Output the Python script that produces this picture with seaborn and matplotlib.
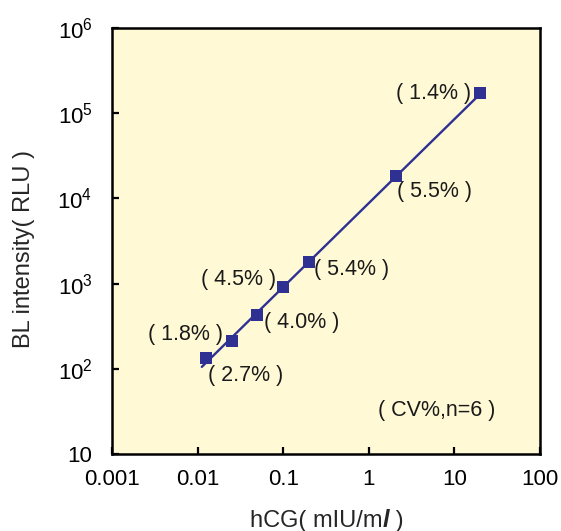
import numpy as np
import pandas as pd
import seaborn as sns
import matplotlib.pyplot as plt
from matplotlib.ticker import FixedLocator, NullLocator

# hCG concentration (mIU/ml) and measured intensity (RLU)
conc = [0.0125, 0.025, 0.05, 0.1, 0.2, 2.1, 20.0]
rlu = [133, 214, 428, 920, 1810, 18500, 171000]
cv_labels = ["( 2.7% )", "( 1.8% )", "( 4.0% )", "( 4.5% )",
             "( 5.4% )", "( 5.5% )", "( 1.4% )"]

x_ticks = [0.001, 0.01, 0.1, 1, 10, 100]
x_ticklabels = ["0.001", "0.01", "0.1", "1", "10", "100"]
y_ticks = [10, 1e2, 1e3, 1e4, 1e5, 1e6]
y_ticklabels = ["10", r"$\mathregular{10^{2}}$", r"$\mathregular{10^{3}}$",
                r"$\mathregular{10^{4}}$", r"$\mathregular{10^{5}}$",
                r"$\mathregular{10^{6}}$"]

# label placement: (ha, dx px, dy px) relative to each point
label_pos = [("left", 2, -17), ("right", -9, 6), ("left", 7, -7),
             ("right", -7, 7), ("left", 5, -8), ("left", 1, -16),
             ("right", -9, 0)]

blue = "#2E3192"
bg = "#FFF9D6"

sns.set_theme(style="ticks")
plt.rcParams["font.family"] = ["Liberation Sans", "DejaVu Sans"]
plt.rcParams["mathtext.fontset"] = "custom"
plt.rcParams["mathtext.rm"] = "Liberation Sans"
plt.rcParams["mathtext.it"] = "Liberation Sans:italic"

df = pd.DataFrame({"conc": conc, "rlu": rlu})

# log-log linear fit for the calibration line
slope, icpt = np.polyfit(np.log10(df["conc"]), np.log10(df["rlu"]), 1)
fit_x = np.array([0.0112, df["conc"].max()])
fit = pd.DataFrame({"conc": fit_x, "rlu": 10 ** (icpt + slope * np.log10(fit_x))})

fig = plt.figure(figsize=(5.61, 5.31), dpi=100)
ax = fig.add_axes([0.1996, 0.145, 0.763, 0.802])
ax.set_facecolor(bg)

sns.lineplot(data=fit, x="conc", y="rlu", ax=ax, color=blue, linewidth=1.7)
sns.scatterplot(data=df, x="conc", y="rlu", ax=ax, color=blue, marker="s",
                s=75, edgecolor=blue, linewidth=0, zorder=3)

ax.set_xscale("log")
ax.set_yscale("log")
ax.set_xlim(0.001, 100)
ax.set_ylim(10, 1e6)
ax.xaxis.set_major_locator(FixedLocator(x_ticks))
ax.yaxis.set_major_locator(FixedLocator(y_ticks))
ax.xaxis.set_minor_locator(NullLocator())
ax.yaxis.set_minor_locator(NullLocator())
ax.set_xticklabels(x_ticklabels)
ax.set_yticklabels(y_ticklabels)
ax.tick_params(direction="in", length=5, width=1.6, labelsize=16,
               colors="black")
ax.tick_params(axis="x", pad=11)
ax.tick_params(axis="y", pad=14)
for sp in ax.spines.values():
    sp.set_visible(True)
    sp.set_linewidth(1.8)
    sp.set_color("black")

ax.set_xlabel("")
ax.set_ylabel("")

for (cx, ry, lab, (ha, dx, dy)) in zip(conc, rlu, cv_labels, label_pos):
    ax.annotate(lab, xy=(cx, ry), xytext=(dx, dy), textcoords="offset pixels",
                ha=ha, va="center", fontsize=15.5, color="#1a1a1a")

ax.text(0.895, 0.103, "( CV%,n=6 )", transform=ax.transAxes, ha="right",
        va="center", fontsize=15.5, color="#1a1a1a")

# axis titles
ax.text(-0.206, 0.482, "BL intensity( RLU )", transform=ax.transAxes,
        rotation=90, ha="center", va="center", fontsize=17)
t1 = ax.text(0.322, -0.171, "hCG( mIU/m", transform=ax.transAxes,
             ha="left", va="baseline", fontsize=17)
t2 = ax.annotate("l", xy=(1, 0), xycoords=t1, ha="left", va="bottom",
                 fontsize=17, style="italic", fontweight="bold")
ax.annotate(" )", xy=(1, 0), xycoords=t2, ha="left", va="bottom", fontsize=17)

fig.savefig("out.png", dpi=100)
